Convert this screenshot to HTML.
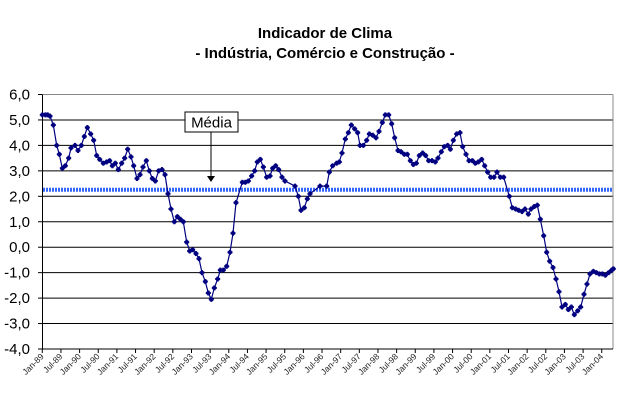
<!DOCTYPE html>
<html><head><meta charset="utf-8">
<style>
html,body{margin:0;padding:0;background:#fff;}
svg{display:block;font-family:"Liberation Sans",Arial,sans-serif;}
</style></head>
<body>
<svg id="c" width="621" height="402" viewBox="0 0 621 402" xmlns="http://www.w3.org/2000/svg">
<rect width="621" height="402" fill="#fff"/>
<text x="325" y="38" font-size="15" font-weight="bold" text-anchor="middle">Indicador de Clima</text>
<text x="325" y="58" font-size="15" font-weight="bold" text-anchor="middle">- Indústria, Comércio e Construção -</text>
<g id="grid"></g>
<line x1="42" y1="94.5" x2="613" y2="94.5" stroke="#888" stroke-width="1"/>
<line x1="613" y1="94.5" x2="613" y2="349" stroke="#888" stroke-width="1"/>
<line x1="42.5" y1="94.5" x2="42.5" y2="349" stroke="#000" stroke-width="1"/>
<line x1="42" y1="349" x2="613" y2="349" stroke="#000" stroke-width="1"/>
<line x1="43" y1="189.7" x2="613" y2="189.7" stroke="#3366ff" stroke-width="4" stroke-dasharray="2,1"/>
<g id="yl"></g><g id="xl"></g>
<polyline id="ser" fill="none" stroke="#000080" stroke-width="1.2"/>
<g id="mk" fill="#000080"></g>
<rect x="185" y="112" width="53" height="20" fill="#fff" stroke="#000" stroke-width="1"/>
<text x="211.5" y="127.5" font-size="15" text-anchor="middle">Média</text>
<line x1="211" y1="132" x2="211" y2="176" stroke="#000" stroke-width="1"/>
<polygon points="207,176 215,176 211,182" fill="#000"/>
</svg>
<script>
var NS="http://www.w3.org/2000/svg";
function el(p,t,a,txt){var e=document.createElementNS(NS,t);for(var k in a)e.setAttribute(k,a[k]);if(txt!=null)e.textContent=txt;p.appendChild(e);return e;}
var Y0=247.2,U=25.45;
var g=document.getElementById('grid'),yl=document.getElementById('yl'),xl=document.getElementById('xl');
for(var v=-4;v<=6;v++){var y=Y0-v*U;
 if(v<6&&v>-4)el(g,'line',{x1:42,y1:y,x2:613,y2:y,stroke:'#000','stroke-width':1});
 el(g,'line',{x1:38,y1:y,x2:42,y2:y,stroke:'#000','stroke-width':1});
 el(yl,'text',{x:30,y:y+5,'font-size':15,'text-anchor':'end'},(v<0?'-':'')+Math.abs(v)+',0');}
var x0=42.3,mw=3.108;
for(var i=0;i<=30;i++){var x=x0+i*6*mw;var yr=89+Math.floor(i/2);yr=yr%100;
 var lab=(i%2?'Jul-':'Jan-')+(yr<10?'0':'')+yr;
 el(g,'line',{x1:x,y1:349,x2:x,y2:353,stroke:'#000','stroke-width':1});
 el(xl,'text',{x:x+2,y:357,'font-size':8.5,'text-anchor':'end',transform:'rotate(-45 '+(x+2)+' 357)',fill:'#222'},lab);}
var z1=[[127,5.2],[136,5.2],[143,5.2],[150,5.15],[160,4.8],[170,4.0],[178,3.65],[187,3.1],[196,3.2],[206,3.5],[213,3.9],[225,4.0],[234,3.8],[244,4.0],[253,4.35],[262,4.7],[272,4.45],[281,4.2],[290,3.6],[299,3.45],[310,3.3],[320,3.35],[329,3.4],[337,3.2],[346,3.3],[355,3.05],[365,3.3],[374,3.5],[383,3.85],[393,3.55],[401,3.2],[411,2.7],[420,2.85],[429,3.15],[439,3.4],[448,3.0],[457,2.7],[466,2.6],[476,3.0],[486,3.05],[495,2.85],[504,2.1],[513,1.5],[523,1.0],[532,1.2],[541,1.1],[550,1.0],[560,0.2],[569,-0.15],[578,-0.1],[588,-0.25],[597,-0.45],[606,-1.0],[616,-1.35],[625,-1.8],[634,-2.05],[643,-1.6],[653,-1.25],[661,-0.9],[670,-0.9],[680,-0.75],[690,-0.2],[699,0.55],[708,1.75],[727,2.55],[736,2.55],[745,2.6],[755,2.8],[764,3.0],[772,3.35],[781,3.45],[790,3.15],[800,2.75],[810,2.8],[818,3.1],[827,3.2],[836,3.05],[846,2.75],[855,2.6],[885,2.4],[895,2.0],[903,1.45],[913,1.55],[922,1.9]];
var z2=[[0,2.1],[30,2.4],[50,2.4],[58,2.95],[68,3.2],[80,3.3],[88,3.35],[96,3.7],[106,4.25],[115,4.5],[124,4.8],[134,4.65],[143,4.5],[150,4.0],[160,4.0],[170,4.2],[178,4.45],[188,4.4],[198,4.3],[207,4.55],[217,4.9],[226,5.2],[236,5.2],[245,4.85],[254,4.3],[264,3.8],[273,3.75],[283,3.65],[292,3.65],[301,3.4],[310,3.25],[319,3.3],[328,3.6],[338,3.7],[347,3.6],[356,3.4],[366,3.4],[376,3.35],[384,3.5],[394,3.75],[403,3.95],[413,4.0],[421,3.85],[430,4.2],[440,4.45],[450,4.5],[458,3.95],[468,3.65],[477,3.4],[487,3.4],[496,3.3],[505,3.35],[515,3.45],[524,3.2],[533,2.95],[542,2.75],[552,2.75],[561,2.95],[571,2.75],[581,2.75],[598,2.0],[607,1.55],[617,1.5],[626,1.45],[636,1.4],[645,1.5],[655,1.3],[663,1.5],[673,1.6],[682,1.65],[691,1.1],[701,0.45],[710,-0.2],[719,-0.55],[729,-0.8],[738,-1.25],[747,-1.75],[756,-2.35],[766,-2.25],[775,-2.45],[784,-2.35],[793,-2.65],[803,-2.5],[812,-2.35],[822,-1.85],[831,-1.45],[840,-1.05],[850,-0.95],[859,-1.0],[868,-1.05],[877,-1.05],[886,-1.1],[896,-1.0],[905,-0.9],[910,-0.85]];
var pts=[];
z1.forEach(function(p){pts.push([p[0]/3,Y0-p[1]*U]);});
z2.forEach(function(p){pts.push([310+p[0]/3,Y0-p[1]*U]);});
document.getElementById('ser').setAttribute('points',pts.map(function(p){return p[0].toFixed(1)+','+p[1].toFixed(1);}).join(' '));
var mk=document.getElementById('mk');
pts.forEach(function(p){
 el(mk,'rect',{x:p[0]-1,y:p[1]-2.5,width:2,height:5});
 el(mk,'rect',{x:p[0]-2.5,y:p[1]-1,width:5,height:2});
 el(mk,'rect',{x:p[0]-1.7,y:p[1]-1.7,width:3.4,height:3.4});});
</script>
</body></html>
